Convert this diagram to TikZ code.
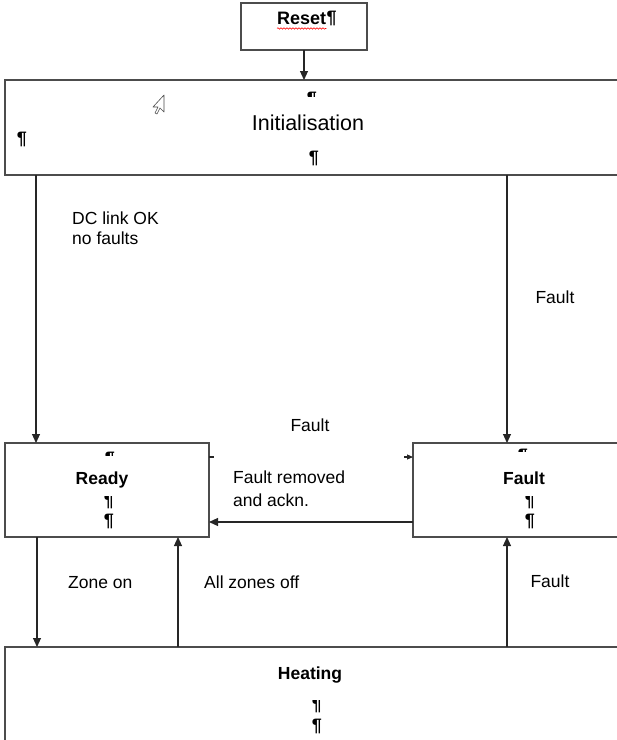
\documentclass[tikz,border=0pt]{standalone}
\usepackage{fontspec}
\setmainfont{Liberation Sans}
\usetikzlibrary{arrows.meta,decorations.pathmorphing}
\begin{document}
\begin{tikzpicture}[x=1pt,y=-1pt,
  box/.style={draw=black!70, line width=1.3pt, rectangle, inner sep=0pt, outer sep=0pt, anchor=north west},
  conn/.style={draw=black!85, line width=1.1pt},
  arr/.style={conn, -{Triangle[length=9pt,width=8pt]}},
  lbl/.style={font=\fontsize{17.5}{20}\selectfont, inner sep=0pt, text height=12.5pt, text depth=0pt},
  blbl/.style={lbl, font=\bfseries\fontsize{17.5}{20}\selectfont},
  pil/.style={font=\bfseries\fontsize{18}{20}\selectfont, inner sep=0pt, text=black},
  wavy/.style={draw=red, line width=0.6pt, decorate, decoration={snake, amplitude=0.7pt, segment length=3pt}},
  cursor/.style={draw=black!70, line width=0.6pt, fill=white, line join=round},
]
\useasboundingbox (0,0) rectangle (617,740);
\clip (0,0) rectangle (617,740);

% boxes
\node[box, minimum width=126pt, minimum height=47pt] (reset) at (241,3) {};
\node[box, minimum width=630pt, minimum height=95pt] (init) at (5,80) {};
\node[box, minimum width=204pt, minimum height=94pt] (ready) at (5,443) {};
\node[box, minimum width=220pt, minimum height=94pt] (fault) at (413,443) {};
\node[box, minimum width=630pt, minimum height=120pt] (heat) at (5,647) {};

% box texts
\node[blbl, font=\bfseries\fontsize{18}{20}\selectfont, anchor=west] (tReset) at (277,18) {Reset};
\node[pil, anchor=west] (pReset) at (tReset.east) {¶};
\draw[wavy] ([yshift=-4pt]tReset.south west) -- ([yshift=-4pt]tReset.south east);

\node[lbl, font=\fontsize{21.5}{24}\selectfont, text height=15.4pt] (tInit) at (308,123) {Initialisation};
\node[pil] (pInit1) at (314,158) {¶};
\node[pil] (pInit2) at (22,139) {¶};
\begin{scope}
  \clip (300,91) rectangle (325,96);
  \node[pil] (mInit) at (312,99) {¶};
\end{scope}
% mouse pointer
\draw[cursor] (164,95) -- ++(0,17) -- ++(-4,-4) -- ++(-3,6) -- ++(-2,-1) -- ++(3,-6) -- ++(-5,0) -- cycle;

\node[blbl] (tReady) at (102,478) {Ready};
\begin{scope}
  \clip (95,451) rectangle (125,455);
  \node[pil] (mReady) at (110,459) {¶};
\end{scope}
\begin{scope}
  \clip (95,496) rectangle (125,509);
  \node[pil] (pReady1) at (109,501) {¶};
\end{scope}
\node[pil] (pReady2) at (109,521) {¶};

\node[blbl] (tFault) at (524,478) {Fault};
\begin{scope}
  \clip (510,448) rectangle (540,451);
  \node[pil] (mFault) at (523,456) {¶};
\end{scope}
\begin{scope}
  \clip (515,496) rectangle (545,509);
  \node[pil] (pFault1) at (530,501) {¶};
\end{scope}
\node[pil] (pFault2) at (530,521) {¶};

\node[blbl] (tHeat) at (310,673) {Heating};
\begin{scope}
  \clip (300,700) rectangle (335,713);
  \node[pil] (pHeat1) at (317,705) {¶};
\end{scope}
\node[pil] (pHeat2) at (317,726) {¶};

% connectors
\draw[arr] (reset.south) -- (reset.south |- init.north);
\coordinate (xL) at ([xshift=31pt]init.south west);
\draw[arr] (xL) -- (xL |- ready.north);
\coordinate (xR) at ([xshift=94pt]fault.north west);
\draw[arr] (xR |- init.south) -- (xR);
\coordinate (frA) at ([yshift=15pt]fault.south west);
\draw[arr] (frA) -- (frA -| ready.east);
\coordinate (rf1) at ([yshift=-14pt]ready.north east);
\draw[conn] (rf1) -- ++(5,0);
\coordinate (rf2) at ([yshift=-14pt]fault.north west);
\draw[conn, -{Triangle[length=6pt,width=5pt]}] ([xshift=-9pt]rf2) -- (rf2);
\coordinate (xL2) at ([xshift=32pt]ready.south west);
\draw[arr] (xL2) -- (xL2 |- heat.north);
\coordinate (xM) at ([xshift=173pt]ready.south west);
\draw[arr] (xM |- heat.north) -- (xM);
\coordinate (xR2) at ([xshift=94pt]fault.south west);
\draw[arr] (xR2 |- heat.north) -- (xR2);

% connector labels
\node[lbl, anchor=west] (lDC1) at (72,218) {DC link OK};
\node[lbl, anchor=west] (lDC2) at (72,238) {no faults};
\node[lbl] (lF1) at (555,297) {Fault};
\node[lbl] (lF2) at (310,425) {Fault};
\node[lbl, anchor=west] (lFR1) at (233,477) {Fault removed};
\node[lbl, anchor=west] (lFR2) at (233,500) {and ackn.};
\node[lbl, anchor=west] (lZon) at (68,582) {Zone on};
\node[lbl, anchor=west] (lZoff) at (204,582) {All zones off};
\node[lbl] (lF3) at (550,581) {Fault};
\end{tikzpicture}
\end{document}
